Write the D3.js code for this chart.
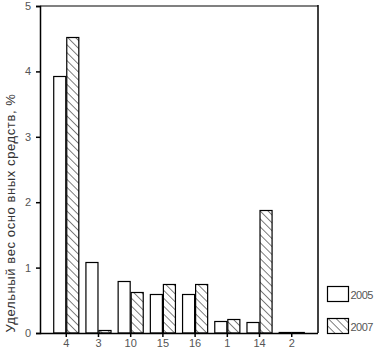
<!DOCTYPE html>
<html>
<head>
<meta charset="utf-8">
<script src="https://cdn.jsdelivr.net/npm/d3@7"></script>
<style>
  body { margin: 0; background: #fff; }
  svg { display: block; }
</style>
</head>
<body>
<svg id="chart"></svg>
<script>
const categories = ['4', '3', '10', '15', '16', '1', '14', '2'];
const values2005 = [3.93, 1.09, 0.80, 0.59, 0.59, 0.19, 0.17, 0.02];
const values2007 = [4.53, 0.05, 0.63, 0.75, 0.75, 0.21, 1.88, 0.02];
const seriesNames = ['2005', '2007'];
const yTicks = [0, 1, 2, 3, 4, 5];

const width = 377, height = 348;
const margin = { top: 6, right: 59, bottom: 15, left: 40 };
const textColor = '#555';

const svg = d3.select('#chart').attr('width', width).attr('height', height);

// hatch pattern for the 2007 series ("\" lines)
const defs = svg.append('defs');
defs.append('pattern')
  .attr('id', 'hatch')
  .attr('patternUnits', 'userSpaceOnUse')
  .attr('width', 5.6).attr('height', 5.6)
  .attr('patternTransform', 'rotate(-45)')
  .append('line')
  .attr('x1', 0).attr('y1', 0).attr('x2', 0).attr('y2', 5.6)
  .attr('stroke', '#000').attr('stroke-width', 1);

const x = d3.scaleBand()
  .domain(categories)
  .range([margin.left + 10, width - margin.right - 10])
  .paddingInner(0.19)
  .paddingOuter(0.1);

const xSub = d3.scaleBand().domain(seriesNames).range([0, x.bandwidth()]);

const y = d3.scaleLinear().domain([0, 5]).range([height - margin.bottom, margin.top]);

// frame: grey top, black right
svg.append('line')
  .attr('x1', margin.left).attr('x2', width - margin.right)
  .attr('y1', y(5)).attr('y2', y(5))
  .attr('stroke', '#808080').attr('stroke-width', 2);
svg.append('line')
  .attr('x1', width - margin.right).attr('x2', width - margin.right)
  .attr('y1', y(5) - 1).attr('y2', y(0))
  .attr('stroke', '#000').attr('stroke-width', 1.5);

const rows = categories.map((c, i) => ({ c, v: [values2005[i], values2007[i]] }));

const groups = svg.selectAll('g.grp')
  .data(rows)
  .join('g')
  .attr('class', 'grp')
  .attr('transform', d => `translate(${x(d.c)},0)`);

groups.selectAll('rect')
  .data(d => d.v.map((v, k) => ({ s: seriesNames[k], v })))
  .join('rect')
  .attr('x', d => xSub(d.s) + 0.5)
  .attr('y', d => Math.round(y(d.v)) + 0.5)
  .attr('width', xSub.bandwidth() - 1)
  .attr('height', d => Math.max(0, y(0) - Math.round(y(d.v)) - 0.5))
  .attr('fill', d => d.s === '2005' ? '#fff' : 'url(#hatch)')
  .attr('stroke', '#000')
  .attr('stroke-width', 1.2);

// axes
const yAxis = d3.axisLeft(y).tickValues(yTicks).tickFormat(d3.format('d')).tickSize(4).tickPadding(5);
const gy = svg.append('g')
  .attr('transform', `translate(${margin.left},0)`)
  .call(yAxis);
gy.select('.domain').attr('stroke', '#000').attr('stroke-width', 1.5);

const xAxis = d3.axisBottom(x).tickSize(4).tickPadding(2).tickSizeOuter(0);
const gx = svg.append('g')
  .attr('transform', `translate(0,${y(0)})`)
  .call(xAxis);
gx.select('.domain').attr('d', `M${margin.left},0.5H${width - margin.right}`)
  .attr('stroke', '#000').attr('stroke-width', 1.5);
gx.selectAll('.tick line').attr('stroke', '#000').attr('stroke-width', 1.5);
gy.selectAll('.tick line').attr('stroke', '#000').attr('stroke-width', 1.5);

svg.selectAll('.tick text')
  .attr('fill', textColor)
  .attr('font-family', 'Liberation Sans, Arial, sans-serif')
  .attr('font-size', 11);

// y title
svg.append('text')
  .attr('transform', `translate(15,${213}) rotate(-90)`)
  .attr('text-anchor', 'middle')
  .attr('font-family', 'Liberation Sans, Arial, sans-serif')
  .attr('font-size', 13)
  .attr('letter-spacing', 0.6)
  .attr('fill', '#333')
  .text('Удельный вес осно вных средств, %');

// legend
const legend = svg.append('g')
  .selectAll('g')
  .data(seriesNames)
  .join('g')
  .attr('transform', (d, i) => `translate(327.5,${286.5 + i * 32})`);
legend.append('rect')
  .attr('width', 21).attr('height', 15)
  .attr('fill', d => d === '2005' ? '#fff' : 'url(#hatch)')
  .attr('stroke', '#000').attr('stroke-width', 1.2);
legend.append('text')
  .attr('x', 23).attr('y', 12)
  .attr('font-family', 'Liberation Sans Narrow, Liberation Sans, Arial, sans-serif')
  .attr('font-size', 11)
  .attr('fill', textColor)
  .attr('letter-spacing', -0.5)
  .text(d => d);
</script>
</body>
</html>
